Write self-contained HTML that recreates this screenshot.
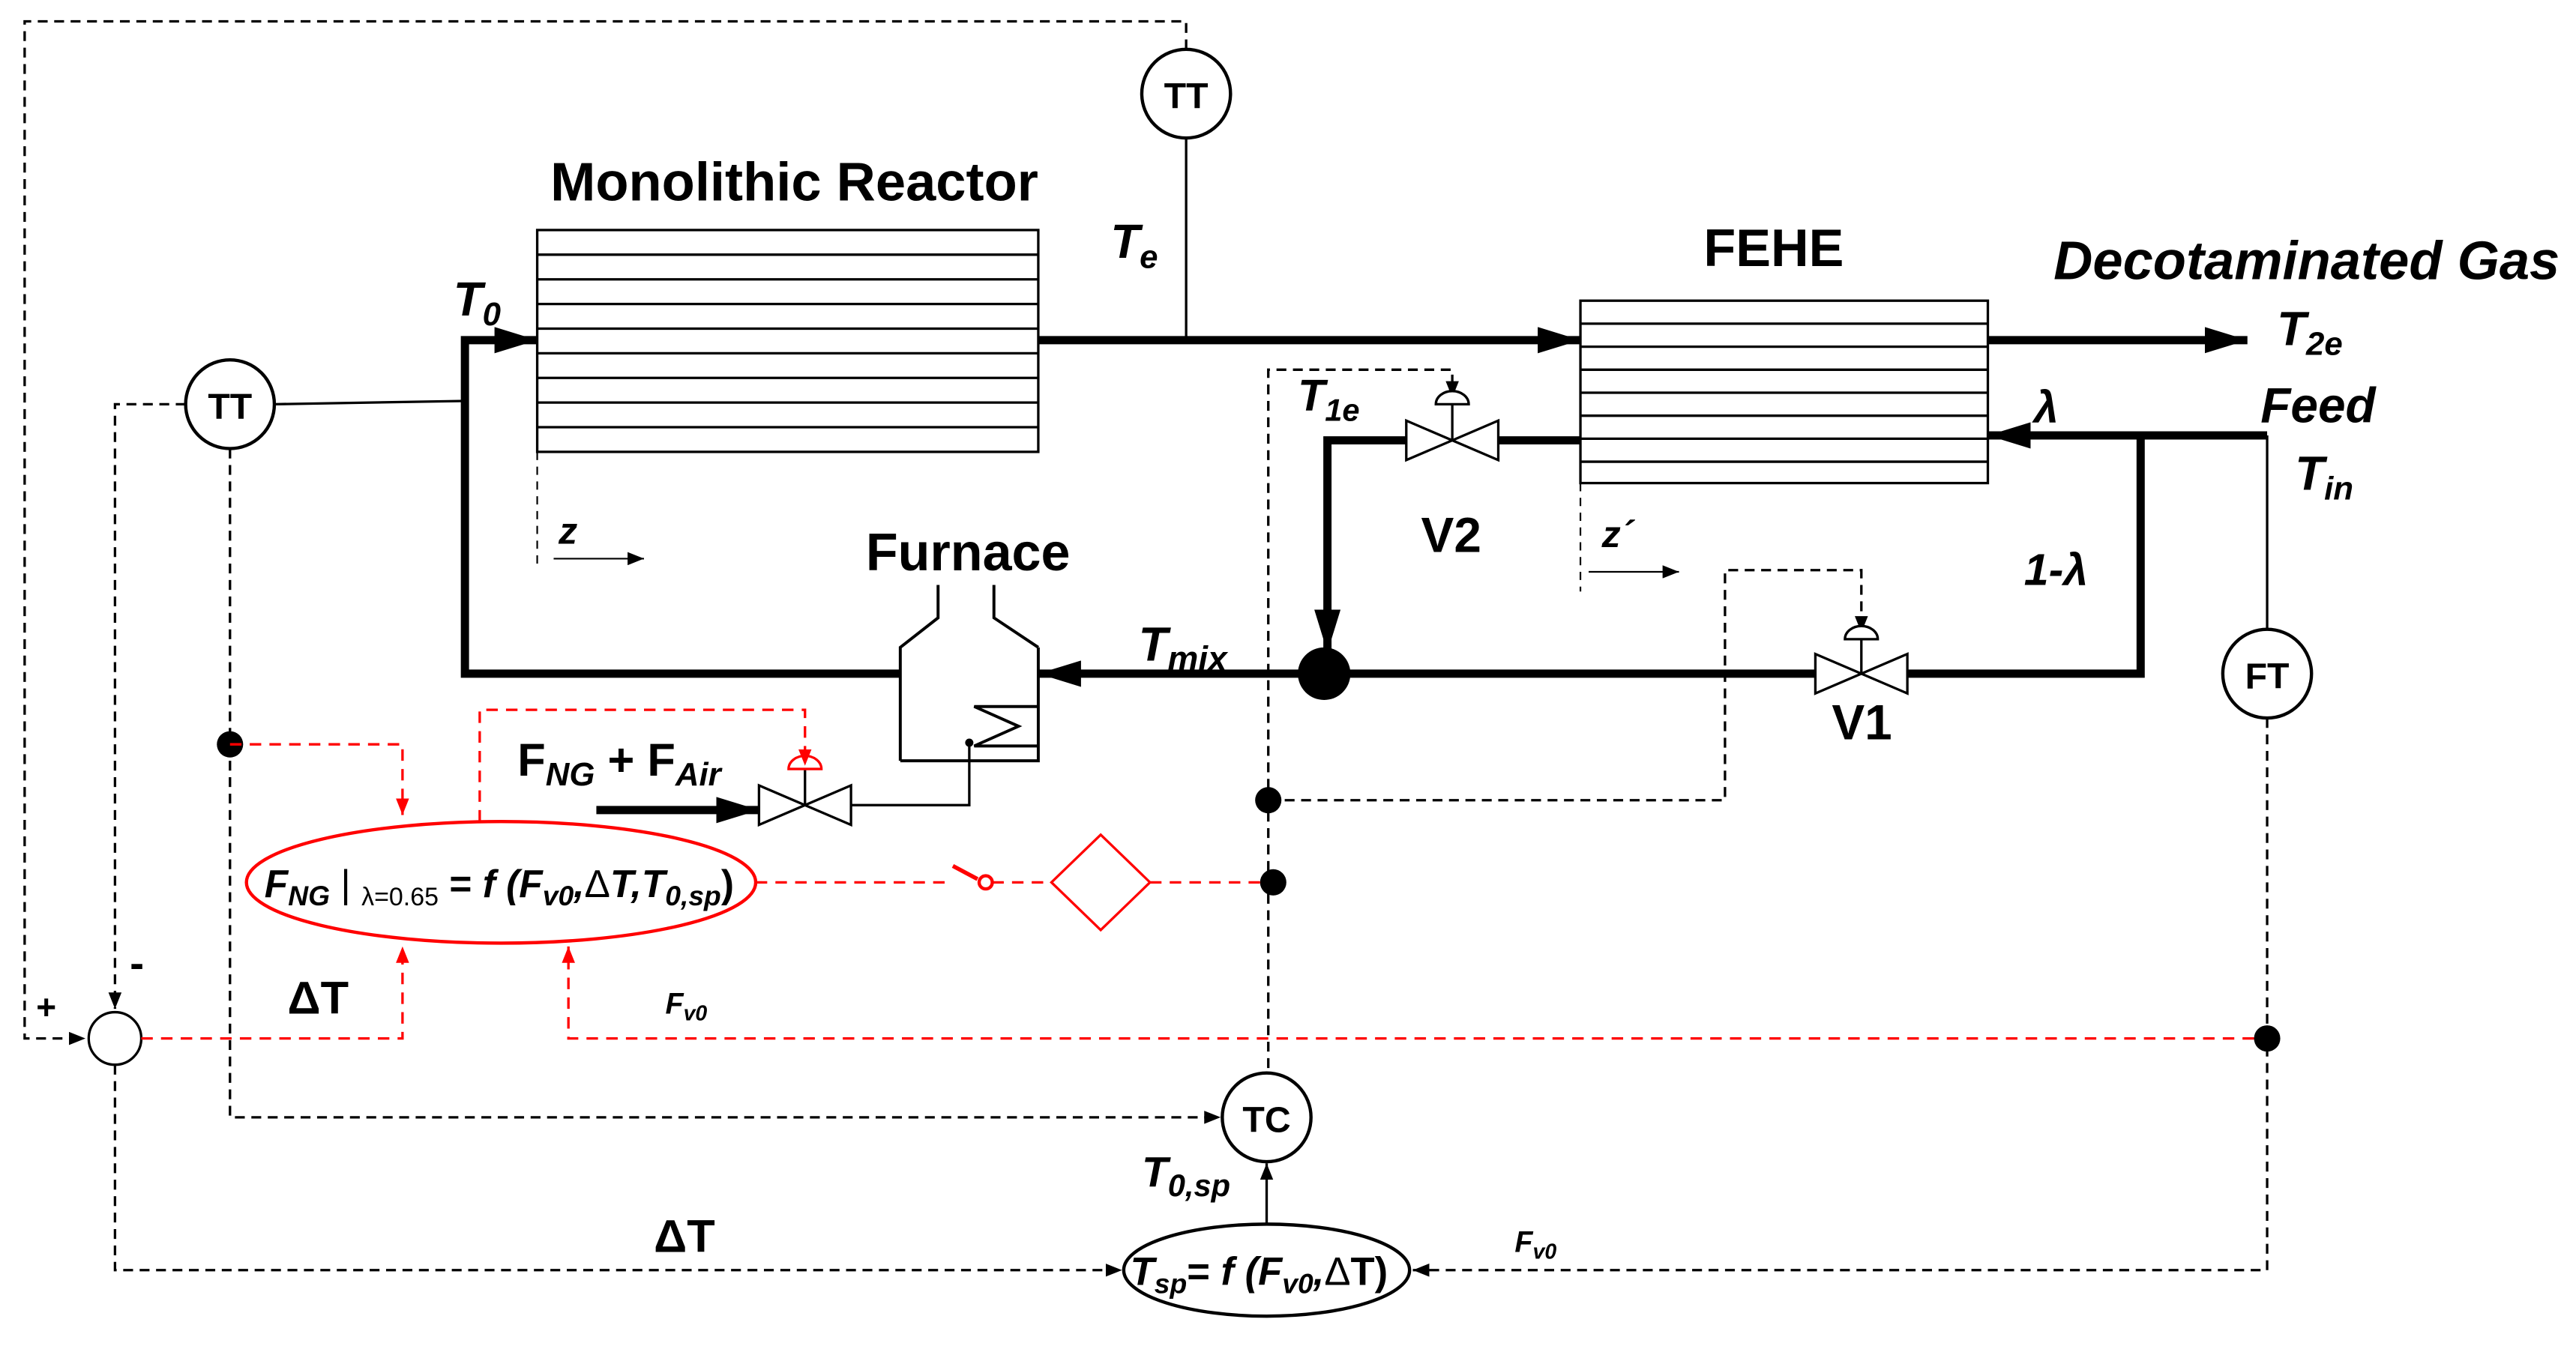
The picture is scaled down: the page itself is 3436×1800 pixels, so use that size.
<!DOCTYPE html>
<html><head><meta charset="utf-8"><style>
html,body{margin:0;padding:0;background:#fff;}
svg{display:block;}
text{font-family:"Liberation Sans",sans-serif;font-weight:bold;}
</style></head><body>
<svg width="3436" height="1800" viewBox="0 0 1568 821" preserveAspectRatio="none" xmlns="http://www.w3.org/2000/svg">
<defs>
<marker id="ab" markerWidth="10" markerHeight="8" refX="10" refY="4" orient="auto" markerUnits="userSpaceOnUse"><path d="M0,0L10,4L0,8z" fill="#000"/></marker>
<marker id="ar" markerWidth="10" markerHeight="8" refX="10" refY="4" orient="auto" markerUnits="userSpaceOnUse"><path d="M0,0L10,4L0,8z" fill="#f00"/></marker>
<marker id="at" markerWidth="26" markerHeight="16" refX="26" refY="8" orient="auto" markerUnits="userSpaceOnUse"><path d="M0,0L26,8L0,16z" fill="#000"/></marker>
</defs>
<g fill="none" stroke="#000">
<path d="M722,30V13H15V632H52" stroke-width="1.5" stroke-dasharray="6,4" marker-end="url(#ab)"/>
<rect x="327" y="140" width="305" height="135" stroke-width="1.5"/>
<path d="M327,155H632M327,170H632M327,185H632M327,200H632M327,215H632M327,230H632M327,245H632M327,260H632" stroke-width="1.5"/>
<rect x="962" y="183" width="248" height="111" stroke-width="1.5"/>
<path d="M962,197H1210M962,211H1210M962,225H1210M962,239H1210M962,253H1210M962,267H1210M962,281H1210" stroke-width="1.5"/>
<path d="M548,410H283V207H327" stroke-width="5" marker-end="url(#at)"/>
<path d="M632,207H962" stroke-width="5" marker-end="url(#at)"/>
<path d="M1210,207H1368" stroke-width="5" marker-end="url(#at)"/>
<path d="M1380,265H1210" stroke-width="5" marker-end="url(#at)"/>
<path d="M1303,265V410H1160" stroke-width="5"/>
<path d="M1105,410H793" stroke-width="5" marker-end="url(#at)"/>
<path d="M962,268H912" stroke-width="5"/>
<path d="M856,268H808V397" stroke-width="5" marker-end="url(#at)"/>
<path d="M792,410H632" stroke-width="5" marker-end="url(#at)"/>
<path d="M363,493H462" stroke-width="5" marker-end="url(#at)"/>
<path d="M722,84V207" stroke-width="1.5"/>
<circle cx="722" cy="57" r="27" stroke-width="2" fill="#fff"/>
<path d="M167,246L283,244" stroke-width="1.5"/>
<circle cx="140" cy="246" r="27" stroke-width="2" fill="#fff"/>
<path d="M113,246H70V614" stroke-width="1.5" stroke-dasharray="6,4" marker-end="url(#ab)"/>
<path d="M140,273V680H743" stroke-width="1.5" stroke-dasharray="6,4" marker-end="url(#ab)"/>
<circle cx="70" cy="632" r="16" stroke-width="1.5" fill="#fff"/>
<path d="M70,648V773H683" stroke-width="1.5" stroke-dasharray="6,4" marker-end="url(#ab)"/>
<path d="M1380,265V383" stroke-width="1.5"/>
<circle cx="1380" cy="410" r="27" stroke-width="2" fill="#fff"/>
<path d="M1380,437V773H860" stroke-width="1.5" stroke-dasharray="6,4" marker-end="url(#ab)"/>
<path d="M327,275V345M962,294V360" stroke-width="1" stroke-dasharray="5,4"/>
<path d="M337,340H392" stroke-width="1" marker-end="url(#ab)"/>
<path d="M967,348H1022" stroke-width="1" marker-end="url(#ab)"/>
<path d="M548,463V394L571,376V356M632,394V463H548M632,394L605,376V356" stroke-width="1.8"/>
<path d="M632,430H593L620,442L593,454H632" stroke-width="1.8"/>
<path d="M590,452V490H518" stroke-width="1.5"/>
<circle cx="590" cy="452" r="2" fill="#000"/>
<path d="M772,660V225H884V242" stroke-width="1.5" stroke-dasharray="6,4" marker-end="url(#ab)"/>
<path d="M772,487H1050V347H1133V385" stroke-width="1.5" stroke-dasharray="6,4" marker-end="url(#ab)"/>
<path d="M771,745V708" stroke-width="1.5" marker-end="url(#ab)"/>
<circle cx="771" cy="680" r="27" stroke-width="2" fill="#fff"/>
<ellipse cx="771" cy="773" rx="87" ry="28" stroke-width="2" fill="#fff"/>
</g>
<g stroke="#000" stroke-width="1.5" fill="#fff">
<path d="M856,256L912,280V256L856,280Z"/><path d="M884,268V246"/><path d="M874,246A10,8 0 0 1 894,246Z"/>
<path d="M1105,398L1161,422V398L1105,422Z"/><path d="M1133,410V389"/><path d="M1123,389A10,8 0 0 1 1143,389Z"/>
<path d="M462,478L518,502V478L462,502Z"/><path d="M490,490V468"/><path d="M480,468A10,8 0 0 1 500,468Z" stroke="#f00"/>
</g>
<g fill="#000">
<circle cx="806" cy="410" r="16"/>
<circle cx="140" cy="453" r="8"/>
<circle cx="772" cy="487" r="8"/>
<circle cx="775" cy="537" r="8"/>
<circle cx="1380" cy="632" r="8"/>
</g>
<g fill="none" stroke="#f00" stroke-width="1.5">
<path d="M140,453H245V496" stroke-dasharray="7,5" marker-end="url(#ar)"/>
<path d="M292,500V432H490V466" stroke-dasharray="7,5" marker-end="url(#ar)"/>
<path d="M86,632H245V576" stroke-dasharray="7,5" marker-end="url(#ar)"/>
<path d="M1372,632H346V576" stroke-dasharray="7,5" marker-end="url(#ar)"/>
<path d="M460,537H580" stroke-dasharray="7,5"/>
<path d="M604,537H640M700,537H767" stroke-dasharray="7,5"/>
<path d="M580,527L595,535" stroke-width="2.5"/>
<circle cx="600" cy="537" r="4" stroke-width="2"/>
<path d="M670,508L700,537L670,566L640,537Z"/>
<ellipse cx="305" cy="537" rx="155" ry="37" stroke-width="2" fill="#fff"/>
</g>
<g fill="#000">
<text x="335" y="122" font-size="33">Monolithic Reactor</text>
<text x="1037" y="162" font-size="32">FEHE</text>
<text x="527" y="347" font-size="32">Furnace</text>
<text x="1250" y="170" font-size="33" font-style="italic">Decotaminated Gas</text>
<text x="1386" y="210" font-size="29" font-style="italic">T<tspan font-size="20" dy="6">2e</tspan></text>
<text x="1376" y="257" font-size="30" font-style="italic">Feed</text>
<text x="1397" y="298" font-size="29" font-style="italic">T<tspan font-size="20" dy="6">in</tspan></text>
<text x="1238" y="257" font-size="27" font-style="italic">λ</text>
<text x="1232" y="356" font-size="27" font-style="italic">1-λ</text>
<text x="865" y="336" font-size="30">V2</text>
<text x="1115" y="450" font-size="30">V1</text>
<text x="790" y="250" font-size="27" font-style="italic">T<tspan font-size="19" dy="6">1e</tspan></text>
<text x="676" y="157" font-size="29" font-style="italic">T<tspan font-size="20" dy="6">e</tspan></text>
<text x="276" y="192" font-size="29" font-style="italic">T<tspan font-size="20" dy="6">0</tspan></text>
<text x="693" y="402" font-size="29" font-style="italic">T<tspan font-size="21" dy="6">mix</tspan></text>
<text x="340" y="331" font-size="23" font-style="italic">z</text>
<text x="975" y="333" font-size="23" font-style="italic">z´</text>
<text x="315" y="472" font-size="28">F<tspan font-size="20" dy="6" font-style="italic">NG</tspan><tspan dy="-6"> + F</tspan><tspan font-size="20" dy="6" font-style="italic">Air</tspan></text>
<text x="722" y="66" font-size="22" text-anchor="middle">TT</text>
<text x="140" y="255" font-size="22" text-anchor="middle">TT</text>
<text x="1380" y="419" font-size="22" text-anchor="middle">FT</text>
<text x="771" y="689" font-size="22" text-anchor="middle">TC</text>
<text x="22" y="620" font-size="21">+</text>
<text x="79" y="595" font-size="26">-</text>
<text x="175" y="617" font-size="28" font-weight="normal">ΔT</text>
<text x="398" y="762" font-size="28" font-weight="normal">ΔT</text>
<text x="405" y="617" font-size="18" font-style="italic">F<tspan font-size="13" dy="4">v0</tspan></text>
<text x="922" y="762" font-size="18" font-style="italic">F<tspan font-size="13" dy="4">v0</tspan></text>
<text x="695" y="722" font-size="26" font-style="italic">T<tspan font-size="19" dy="6">0,sp</tspan></text>
<text x="688" y="782" font-size="24" font-style="italic">T<tspan font-size="17" dy="5">sp</tspan><tspan dy="-5" font-style="normal">= </tspan><tspan>f (F</tspan><tspan font-size="17" dy="5">v0</tspan><tspan dy="-5">,</tspan><tspan font-style="normal" font-weight="normal">Δ</tspan><tspan font-style="normal">T)</tspan></text>
<text x="161" y="546" font-size="23.5" font-style="italic">F<tspan font-size="17" dy="5">NG</tspan><tspan dy="-5" font-style="normal" font-weight="normal"> | </tspan><tspan font-size="15.5" dy="5" font-style="normal" font-weight="normal">λ=0.65</tspan><tspan dy="-5" font-style="normal"> = </tspan><tspan>f (F</tspan><tspan font-size="17" dy="5">v0</tspan><tspan dy="-5">,</tspan><tspan font-style="normal" font-weight="normal">Δ</tspan><tspan>T,T</tspan><tspan font-size="17" dy="5">0,sp</tspan><tspan dy="-5" font-style="normal">)</tspan></text>
</g>
</svg>
</body></html>
